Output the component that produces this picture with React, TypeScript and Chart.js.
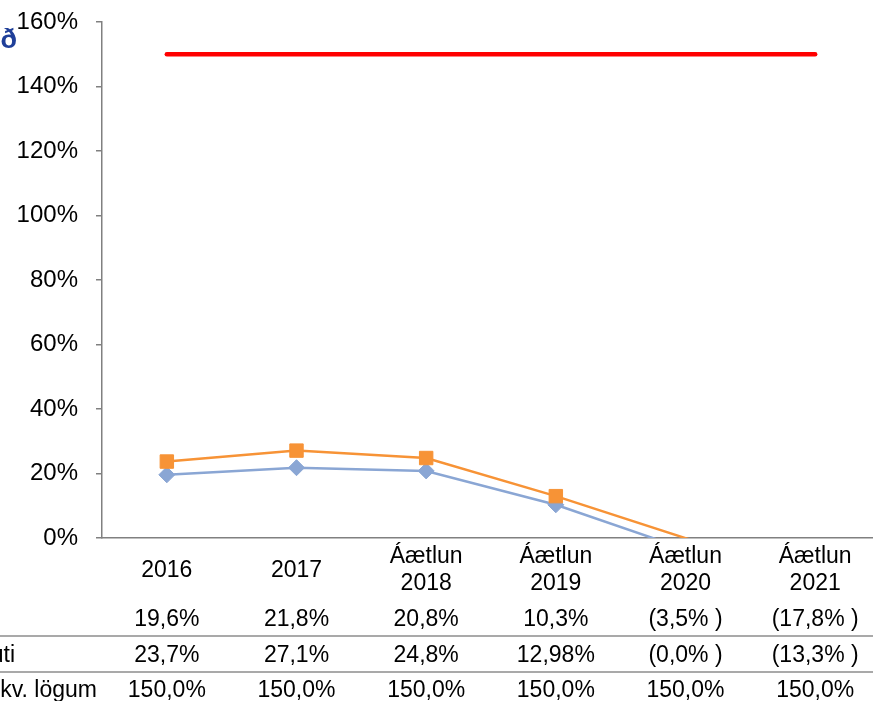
import { useEffect, useRef } from "react";
import { Chart, registerables } from "chart.js";

Chart.register(...registerables);

const titleText = "Skuldaviðmið";
const categories: string[][] = [
  ["2016"],
  ["2017"],
  ["Áætlun", "2018"],
  ["Áætlun", "2019"],
  ["Áætlun", "2020"],
  ["Áætlun", "2021"],
];
const seriesNames = ["A-hluti", "A- og B-hluti", "Hámark skv. lögum"];
const seriesA = [19.6, 21.8, 20.8, 10.3, -3.5, -17.8];
const seriesAB = [23.7, 27.1, 24.8, 12.98, -0.04, -13.3];
const seriesMax = [150, 150, 150, 150, 150, 150];
const tableA = ["19,6%", "21,8%", "20,8%", "10,3%", "(3,5% )", "(17,8% )"];
const tableAB = ["23,7%", "27,1%", "24,8%", "12,98%", "(0,0% )", "(13,3% )"];
const tableMax = ["150,0%", "150,0%", "150,0%", "150,0%", "150,0%", "150,0%"];
const yMin = 0;
const yMax = 160;
const yStep = 20;

const FONT = '"Liberation Sans", Arial, sans-serif';

const tablePlugin = {
  id: "dataTable",
  afterDraw(chart: any) {
    const ctx = chart.ctx as CanvasRenderingContext2D;
    const xs = chart.scales.x;
    ctx.save();
    ctx.strokeStyle = "#8c8c8c";
    ctx.lineWidth = 1.5;
    [636, 672].forEach((y) => {
      ctx.beginPath();
      ctx.moveTo(0, y);
      ctx.lineTo(chart.width, y);
      ctx.stroke();
    });
    ctx.fillStyle = "#000";
    ctx.font = `23px ${FONT}`;
    ctx.textBaseline = "alphabetic";
    ctx.textAlign = "center";
    const rows = [tableA, tableAB, tableMax];
    const rowBase = [626, 662, 697];
    categories.forEach((cat, i) => {
      const x = xs.getPixelForValue(i);
      if (cat.length === 1) {
        ctx.fillText(cat[0], x, 577);
      } else {
        ctx.fillText(cat[0], x, 563);
        ctx.fillText(cat[1], x, 590);
      }
      rows.forEach((r, k) => ctx.fillText(r[i], x, rowBase[k]));
    });
    ctx.textAlign = "right";
    const labelEnds = [-30, 15, 97];
    seriesNames.forEach((n, k) => ctx.fillText(n, labelEnds[k], rowBase[k]));
    ctx.fillStyle = "#1f3f99";
    ctx.font = `bold 27px ${FONT}`;
    ctx.fillText(titleText, 17, 48);
    ctx.restore();
  },
};

export default function App() {
  const ref = useRef<HTMLCanvasElement | null>(null);
  useEffect(() => {
    if (!ref.current) return;
    const chart = new Chart(ref.current, {
      type: "line",
      data: {
        labels: categories.map((c) => c.join(" ")),
        datasets: [
          {
            label: seriesNames[0],
            data: seriesA,
            borderColor: "#8aa6d4",
            backgroundColor: "#8aa6d4",
            borderWidth: 2.5,
            pointStyle: "rectRot",
            pointRadius: (c: any) => (c.raw < 0 ? 0 : 8),
            pointBorderWidth: 1,
            pointBorderColor: "#8aa6d4",
            order: 3,
          },
          {
            label: seriesNames[1],
            data: seriesAB,
            borderColor: "#f79336",
            backgroundColor: "#f79336",
            borderWidth: 2.5,
            pointStyle: "rect",
            pointRadius: (c: any) => (c.raw < 0 ? 0 : 9.5),
            pointBorderWidth: 1,
            pointBorderColor: "#f79336",
            order: 2,
          },
          {
            label: seriesNames[2],
            data: seriesMax,
            borderColor: "#ff0000",
            backgroundColor: "#ff0000",
            borderWidth: 4.5,
            borderCapStyle: "round",
            pointRadius: 0,
            order: 1,
          },
        ],
      },
      options: {
        responsive: false,
        animation: false,
        devicePixelRatio: 1,
        layout: { autoPadding: false, padding: { top: 22, left: 0, right: 0, bottom: 0 } },
        plugins: { legend: { display: false }, tooltip: { enabled: false } },
        scales: {
          x: {
            offset: true,
            grid: { display: false },
            ticks: { display: false },
            border: { display: true, color: "#808080", width: 1.5 },
            afterFit: (s: any) => {
              s.height = 163;
              s.paddingLeft = 0;
              s.paddingRight = 0;
            },
          },
          y: {
            min: yMin,
            max: yMax,
            ticks: {
              stepSize: yStep,
              padding: 18,
              color: "#000",
              font: { family: FONT, size: 24 },
              callback: (v: any) => `${v}%`,
            },
            grid: {
              display: true,
              drawOnChartArea: false,
              drawTicks: true,
              tickLength: 6,
              color: "#808080",
              lineWidth: 1.5,
            },
            border: { display: true, color: "#808080", width: 1.5 },
            afterFit: (s: any) => {
              s.width = 102;
              s.paddingTop = 0;
              s.paddingBottom = 0;
            },
          },
        },
      },
      plugins: [tablePlugin],
    } as any);
    return () => chart.destroy();
  }, []);
  return (
    <div
      style={{
        position: "fixed",
        left: 0,
        top: 0,
        width: 873,
        height: 701,
        overflow: "hidden",
        background: "#fff",
      }}
    >
      <canvas ref={ref} width={880} height={701} style={{ display: "block", width: 880, height: 701 }} />
    </div>
  );
}
